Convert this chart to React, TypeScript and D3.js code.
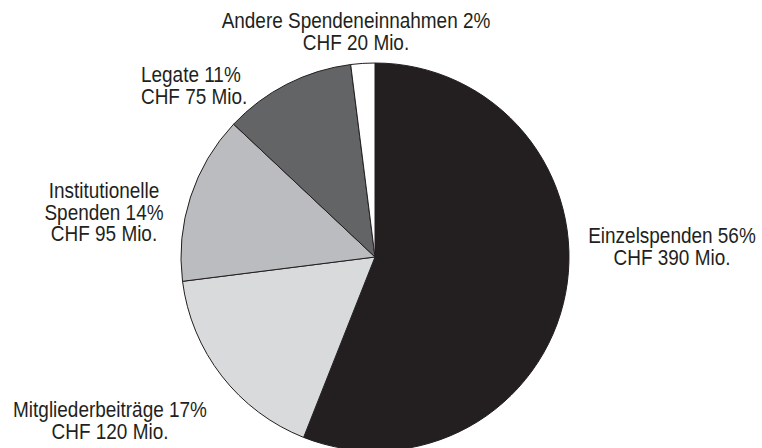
import React from 'react';
import * as d3 from 'd3';

// Spendeneinnahmen nach Quelle
const categories = ['Einzelspenden', 'Mitgliederbeiträge', 'Institutionelle Spenden', 'Legate', 'Andere Spendeneinnahmen'];
const percents = [56, 17, 14, 11, 2];
const amounts = [390, 120, 95, 75, 20];
const labelLines = [
    ['Einzelspenden 56%', 'CHF 390 Mio.'],
    ['Mitgliederbeiträge 17%', 'CHF 120 Mio.'],
    ['Institutionelle', 'Spenden 14%', 'CHF 95 Mio.'],
    ['Legate 11%', 'CHF 75 Mio.'],
    ['Andere Spendeneinnahmen 2%', 'CHF 20 Mio.'],
];

const colors = ['#231f20', '#d9dadc', '#bbbcbf', '#636466', '#ffffff'];
// label placement: [x, y of first baseline, anchor]
const labelPos: [number, number, string][] = [
    [672, 243, 'middle'],
    [110, 417, 'middle'],
    [104, 198, 'middle'],
    [141, 82, 'start'],
    [356, 28, 'middle'],
];

const W = 762;
const H = 448;
const cx = 375;
const cy = 257;
const radius = 194;
const lineH = 21.7;
const squeeze = 0.89; // condensed look

export default function App() {
    const data = categories.map((c, i) => ({ name: c, pct: percents[i], amount: amounts[i] }));
    const pie = d3.pie<any>().sort(null).value(d => d.pct);
    const arc = d3.arc<any>().innerRadius(0).outerRadius(radius);
    const arcs = pie(data);

    return (
        <svg width={W} height={H} style={{ position: 'absolute', left: 0, top: 0 }}>
            <rect width={W} height={H} fill="#ffffff" />
            <g transform={`translate(${cx},${cy})`}>
                {arcs.map((a, i) => (
                    <path
                        key={i}
                        d={arc(a) || ''}
                        fill={colors[i]}
                        stroke="#231f20"
                        strokeWidth={1}
                        strokeLinejoin="round"
                    />
                ))}
            </g>
            <g
                fill="#231f20"
                style={{ fontFamily: '"Liberation Sans", Arial, sans-serif', fontSize: 21.3 }}
            >
                {labelLines.map((lines, i) => (
                    <text
                        key={i}
                        transform={`translate(${labelPos[i][0]},${labelPos[i][1]}) scale(${squeeze},1)`}
                        textAnchor={labelPos[i][2]}
                    >
                        {lines.map((l, j) => (
                            <tspan key={j} x={0} y={j * lineH}>{l}</tspan>
                        ))}
                    </text>
                ))}
            </g>
        </svg>
    );
}
